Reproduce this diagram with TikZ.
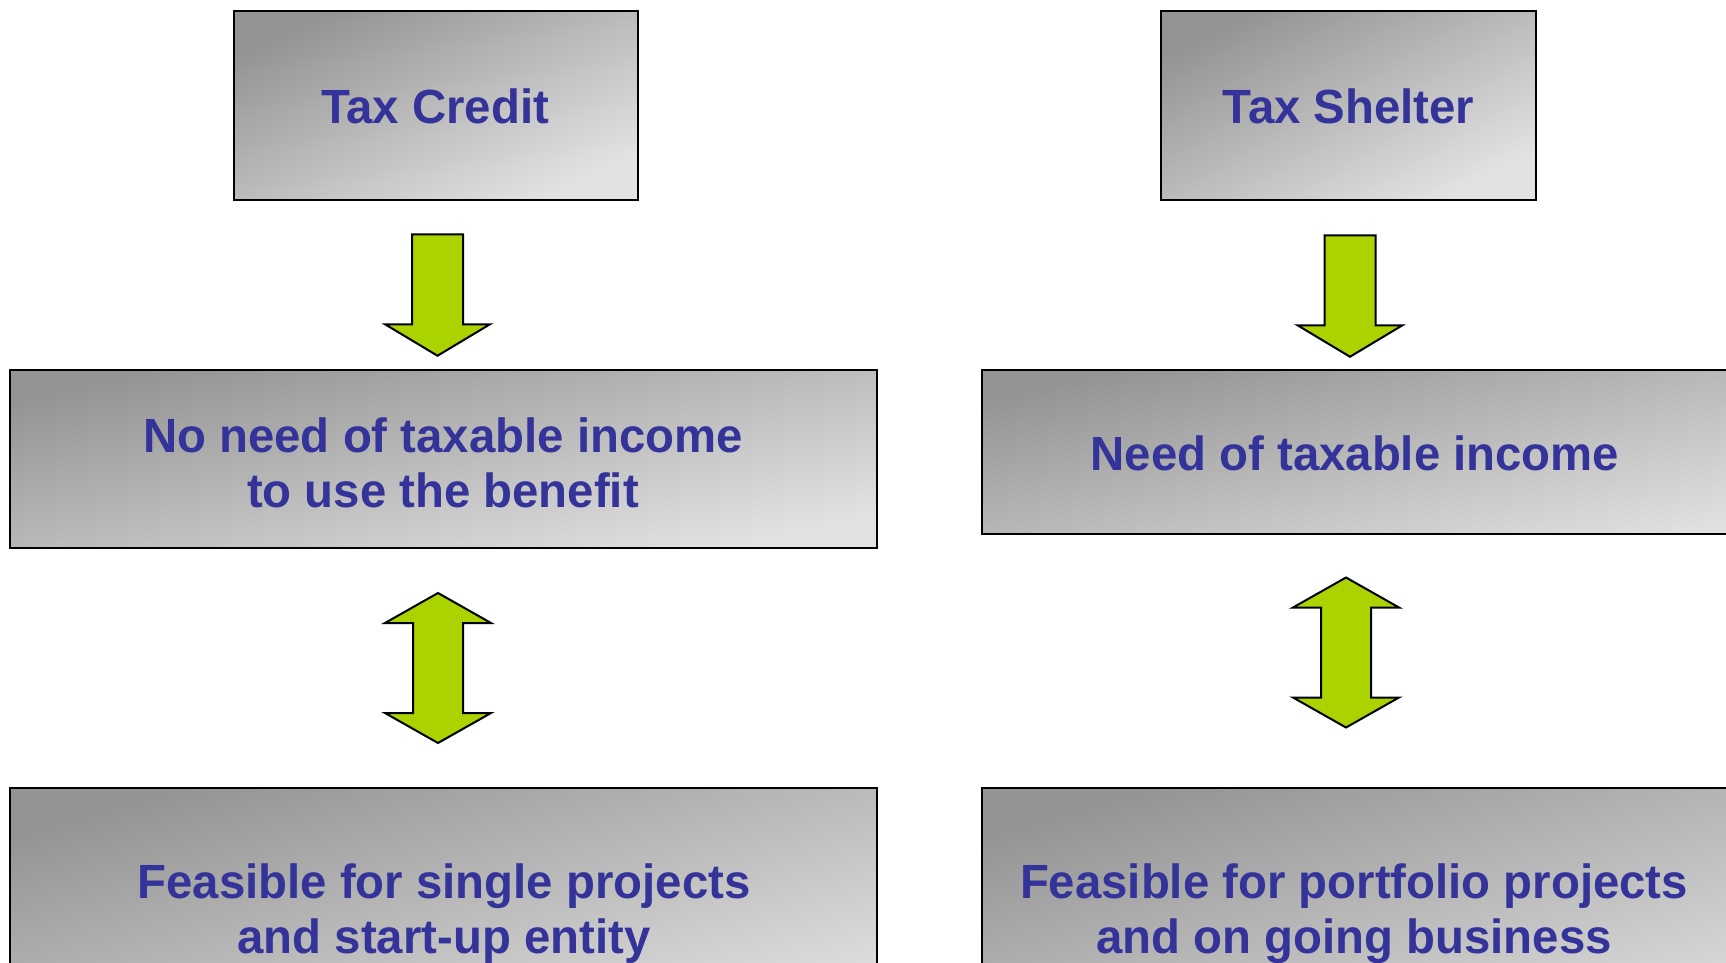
\documentclass[tikz,border=0pt]{standalone}
\usepackage{fontspec}
\setmainfont{Liberation Sans}[FakeStretch=0.986]
\usetikzlibrary{calc}

\definecolor{boxdark}{RGB}{148,148,148}
\definecolor{boxlight}{RGB}{226,226,226}
\definecolor{labelblue}{RGB}{51,51,153}
\definecolor{arrowgreen}{RGB}{170,211,0}

\tikzset{
  panel/.style={draw=black, line width=2.5pt, rectangle, inner sep=0pt,
    top color=boxdark, bottom color=boxlight, shading angle=#1},
  panel/.default=25,
  caption/.style={text=labelblue, align=center, inner sep=0pt,
    font=\fontsize{48}{55}\selectfont\bfseries},
  blockarrow/.style={fill=arrowgreen, draw=black, line width=2pt, line join=miter},
  downarr/.pic={
    \path[blockarrow] (-25.5,0) -- (25.5,0) -- (25.5,-90) -- (52.5,-90)
      -- (0,-121.5) -- (-52.5,-90) -- (-25.5,-90) -- cycle;
  },
  dblarr/.pic={
    \path[blockarrow] (0,75) -- (53,45) -- (25,45) -- (25,-45) -- (53,-45)
      -- (0,-75) -- (-53,-45) -- (-25,-45) -- (-25,45) -- (-53,45) -- cycle;
  },
}

\begin{document}
\begin{tikzpicture}[x=1pt, y=1pt]
  \useasboundingbox (0,0) rectangle (1726,-963);

  % panels
  \node[panel=25, minimum width=404pt, minimum height=189pt] (tcbox) at (436,-105.5) {};
  \node[panel=27, minimum width=375pt, minimum height=189pt] (tsbox) at (1348.5,-105.5) {};
  \node[panel=13, minimum width=867pt, minimum height=178pt] (nnbox) at (443.5,-459) {};
  \node[panel=13, minimum width=867pt, minimum height=164pt] (ndbox) at (1415.5,-452) {};
  \node[panel=16, minimum width=867pt, minimum height=252pt] (fsbox) at (443.5,-914) {};
  \node[panel=16, minimum width=867pt, minimum height=252pt] (fpbox) at (1415.5,-914) {};

  % captions
  \node[caption] (tc) at (435,-106.5) {Tax Credit};
  \node[caption] (ts) at (1348.5,-106.3) {Tax Shelter};
  \node[caption] (nn) at (443,-462.5) {No need of taxable income\\to use the benefit};
  \node[caption] (nd) at (1355,-453.5) {Need of taxable income};
  \node[caption] (fs) at (444,-913.9) {Feasible for single projects\\and start-up entity};
  \node[caption] (fp) at (1354,-913.9) {Feasible for portfolio projects\\and on going business};

  % block arrows between the panels
  \coordinate (a1) at ($(tcbox.south)+(1.5,-33)$);
  \coordinate (a2) at ($(tsbox.south)+(1.5,-34)$);
  \coordinate (d1) at ($(nnbox.south)!0.5!(fsbox.north)+(-5.5,0)$);
  \coordinate (d2) at (1346,-652.5);
  \pic at (a1) {downarr};
  \pic at (a2) {downarr};
  \pic at (d1) {dblarr};
  \pic at (d2) {dblarr};
\end{tikzpicture}
\end{document}
